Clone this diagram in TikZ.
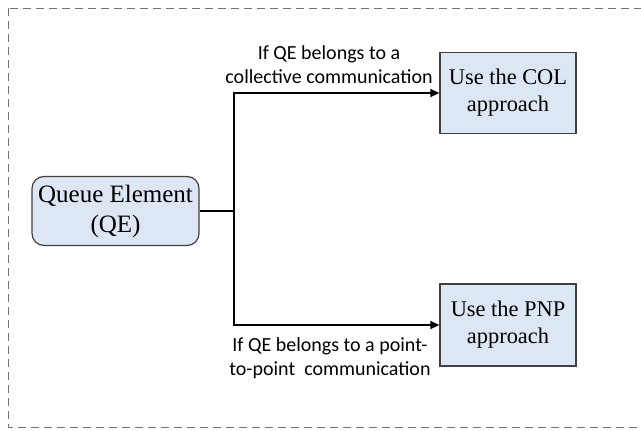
\documentclass[tikz,border=0pt]{standalone}
\usepackage{fontspec}
\setmainfont{Liberation Serif}
\newfontfamily\calibri{Carlito}
\usetikzlibrary{positioning,arrows.meta}

\definecolor{boxblue}{RGB}{221,231,243}
\definecolor{boxline}{RGB}{64,64,64}
\definecolor{framegray}{RGB}{115,115,115}

\begin{document}
\begin{tikzpicture}[x=1pt,y=-1pt]
\tikzstyle{box}=[draw=boxline,fill=boxblue,line width=1.2pt,minimum width=136pt,minimum height=81pt,align=center,inner sep=0pt,font=\fontsize{22.4}{27}\selectfont]
\tikzstyle{cond}=[align=center,inner sep=0pt,font=\calibri\fontsize{20}{24}\selectfont]
\tikzstyle{link}=[line width=1.2pt]

\useasboundingbox (0,0) rectangle (641,431);
\clip (0,0) rectangle (641,431);

%dashed frame round everything
\draw[framegray,dash pattern=on 8pt off 5pt,line width=1pt] (8,8) rectangle (660,427);

%the three boxes
\node[box,rounded corners=12pt,minimum width=167pt,minimum height=69pt,font=\fontsize{25}{30}\selectfont] (qe) at (115.5,211) {Queue Element\\(QE)};
\node[box] (col) at (508,93) {Use the COL\\approach};
\node[box,minimum height=82pt] (pnp) at (508,325) {Use the PNP\\approach};

%fork and arrows
\coordinate (fork) at (234,211);
\draw[link] (qe.east) -- (fork);
\draw[link,-{Triangle[length=9pt,width=8pt]}] (fork) |- (col.west);
\draw[link,-{Triangle[length=9pt,width=8pt]}] (fork) |- (pnp.west);

%conditions on the arrows
\node[cond] (colcond) at (329,65) {If QE belongs to a\\collective communication};
\node[cond] (pnpcond) at (330,358) {If QE belongs to a point-\\to-point~~communication};
\end{tikzpicture}
\end{document}
